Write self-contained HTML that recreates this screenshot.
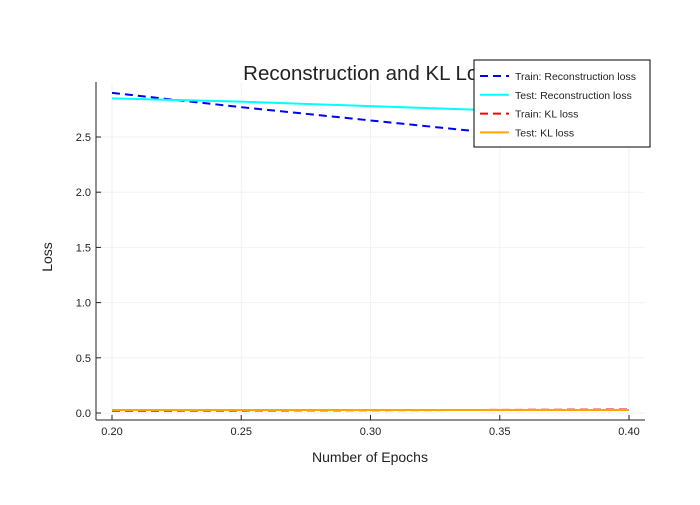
<!DOCTYPE html>
<html><head><meta charset="utf-8"><style>
body{margin:0;background:#fff;font-family:"Liberation Sans",sans-serif}
svg text{font-family:"Liberation Sans",sans-serif}
</style></head><body>
<svg width="700" height="500">
<rect width="700" height="500" fill="#fff"/>
<g id="grid"></g>
<g id="series"></g>
<g id="axes"></g>
<text x="371" y="80" text-anchor="middle" font-size="20.5" fill="#222">Reconstruction and KL Loss</text>
<text x="370" y="462" text-anchor="middle" font-size="14" fill="#222">Number of Epochs</text>
<text x="52" y="257" text-anchor="middle" font-size="14" fill="#222" transform="rotate(-90 52 257)">Loss</text>
<g id="legend"></g>
</svg>
<script>
const xTicks=[0.20,0.25,0.30,0.35,0.40];
const yTicks=[0.0,0.5,1.0,1.5,2.0,2.5];
const epochs=[0.20,0.25,0.30,0.35,0.40];
const trainRecon=[2.90,2.77,2.65,2.53,2.41];
const testRecon=[2.85,2.82,2.78,2.74,2.70];
const trainKL=[0.020,0.022,0.025,0.028,0.032];
const testKL=[0.027,0.027,0.027,0.027,0.027];
const names=["Train: Reconstruction loss","Test: Reconstruction loss","Train: KL loss","Test: KL loss"];
const colors=["#0000ff","#00ffff","#ff0000","#ffa500"];
const dashed=[true,false,true,false];
const NS="http://www.w3.org/2000/svg";
const X=v=>112+(v-0.2)/0.2*517;
const Y=v=>413-v*110.4;
function mk(t,a,p){const e=document.createElementNS(NS,t);for(const k in a)e.setAttribute(k,a[k]);p.appendChild(e);return e;}
const grid=document.getElementById('grid'),axes=document.getElementById('axes'),ser=document.getElementById('series'),leg=document.getElementById('legend');
xTicks.forEach(t=>{
 const g=mk('line',{x1:X(t),x2:X(t),y1:82,y2:420,stroke:'#f2f2f2','stroke-width':1},grid);
 
 mk('line',{x1:X(t),x2:X(t),y1:420,y2:415,stroke:'#222'},axes);
 const tx=mk('text',{x:X(t),y:435,'text-anchor':'middle','font-size':11,fill:'#222'},axes);tx.textContent=t.toFixed(2);
 
});
yTicks.forEach(t=>{
 const g=mk('line',{x1:96,x2:645,y1:Y(t),y2:Y(t),stroke:'#f2f2f2','stroke-width':1},grid);
 
 mk('line',{x1:96,x2:101,y1:Y(t),y2:Y(t),stroke:'#222'},axes);
 const tx=mk('text',{x:91,y:Y(t)+4,'text-anchor':'end','font-size':11,fill:'#222'},axes);tx.textContent=t.toFixed(1);
 
});
mk('line',{x1:96,x2:96,y1:82,y2:420,stroke:'#222'},axes);
mk('line',{x1:96,x2:645,y1:420,y2:420,stroke:'#222'},axes);
[trainRecon,testRecon,trainKL,testKL].forEach((s,i)=>{
 const p=mk('polyline',{points:s.map((v,j)=>X(epochs[j])+','+Y(v)).join(' '),fill:'none',stroke:colors[i],'stroke-width':2,'stroke-dasharray':dashed[i]?'8,5':'none'},ser);
 
});
mk('rect',{x:474,y:60,width:176,height:87,fill:'#fff',stroke:'#000','stroke-width':1},leg);
names.forEach((n,i)=>{
 const y=76+i*18.8;
 mk('line',{x1:480,x2:509,y1:y,y2:y,stroke:colors[i],'stroke-width':2,'stroke-dasharray':dashed[i]?'8,5':'none'},leg);
 const t=mk('text',{x:515,y:y+4,'font-size':10.5,fill:'#222'},leg);t.textContent=n;
 
});
</script>
</body></html>
